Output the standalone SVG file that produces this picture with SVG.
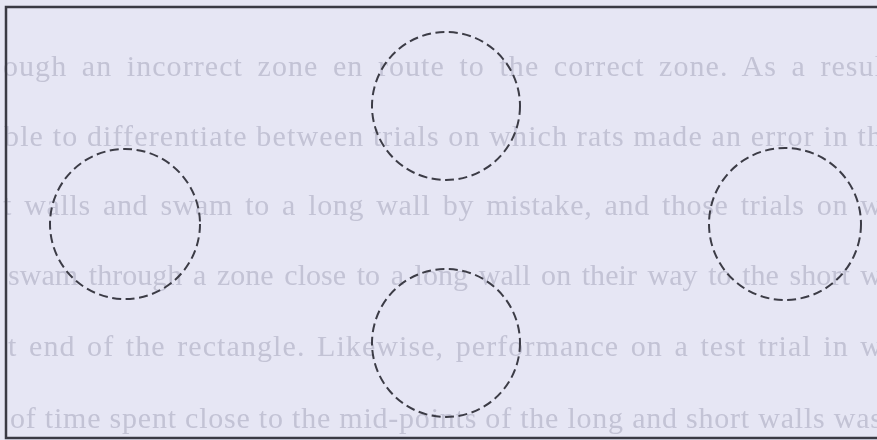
<svg xmlns="http://www.w3.org/2000/svg" width="877" height="440" viewBox="0 0 877 440">
<defs>
<filter id="soft" x="-2%" y="-20%" width="104%" height="140%"><feGaussianBlur stdDeviation="0.6"/></filter>
</defs>
<style>
.bg{fill:#e6e6f4}
.ghost{font-family:"Liberation Serif","Times New Roman",serif;font-size:30px;fill:#c3c3d5;word-spacing:3px}
.frame{fill:none;stroke:#3a3a44;stroke-width:2.5}
.zone{fill:none;stroke:#3c3c46;stroke-width:2;stroke-dasharray:9 4.5}
</style>
<rect class="bg" x="0" y="0" width="877" height="440"/>
<g id="bleed-through" filter="url(#soft)">
<text class="ghost" x="3" y="76" textLength="880" lengthAdjust="spacing" style="word-spacing:6px">ough an incorrect zone en route to the correct zone. As a resul</text>
<text class="ghost" x="4" y="146" textLength="878" lengthAdjust="spacing" style="word-spacing:0px">ble to differentiate between trials on which rats made an error in th</text>
<text class="ghost" x="3" y="215" textLength="879" lengthAdjust="spacing" style="word-spacing:4px">t walls and swam to a long wall by mistake, and those trials on w</text>
<text class="ghost" x="8" y="285" textLength="874" lengthAdjust="spacing">swam through a zone close to a long wall on their way to the short w</text>
<text class="ghost" x="8" y="356" textLength="874" lengthAdjust="spacing">t end of the rectangle. Likewise, performance on a test trial in w</text>
<text class="ghost" x="10" y="428" textLength="872" lengthAdjust="spacing" style="word-spacing:0px">of time spent close to the mid-points of the long and short walls was</text>
</g>
<g id="arena">
<rect class="frame" x="6" y="7" width="900" height="431"/>
</g>
<g id="zone-top"><circle class="zone" cx="446" cy="106" r="74"/></g>
<g id="zone-left"><circle class="zone" cx="125" cy="224" r="75"/></g>
<g id="zone-right"><circle class="zone" cx="785" cy="224" r="76"/></g>
<g id="zone-bottom"><circle class="zone" cx="446" cy="343" r="74"/></g>
<g id="connectors"/>
</svg>
